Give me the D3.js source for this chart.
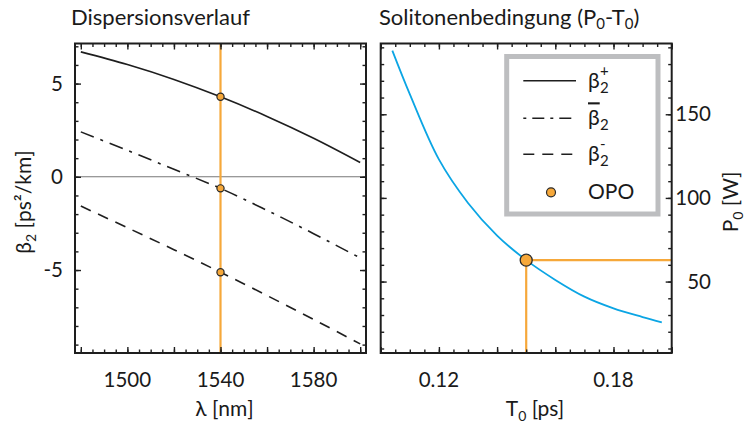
<!DOCTYPE html>
<html>
<head>
<meta charset="utf-8">
<script src="https://cdn.jsdelivr.net/npm/d3@7"></script>
<style>
    body { margin: 0; background: #fff; }
    svg text { font-family: Lato, 'Open Sans', sans-serif; fill: #1a1a1a; }
</style>
</head>
<body>
<div id="chart"></div>
<script>
// left panel: dispersion over wavelength
const lambda = [1480, 1500, 1520, 1540, 1560, 1580, 1600];
const beta2Plus = [6.70, 6.02, 5.22, 4.29, 3.24, 2.07, 0.77];
const beta2Mean = [2.41, 1.42, 0.40, -0.62, -1.80, -3.05, -4.35];
const beta2Minus = [-1.57, -2.73, -3.91, -5.12, -6.37, -7.65, -8.96];
const lambdaOPO = 1540;
const betaOPO = [4.29, -0.62, -5.12];

// right panel: soliton condition P0 over T0
const T0 = [0.104, 0.110, 0.120, 0.130, 0.140, 0.150, 0.160, 0.170, 0.180, 0.190, 0.1966];
const P0 = [188, 162, 123, 97, 77.5, 62.8, 51, 41, 34, 28.8, 25.6];
const T0OPO = 0.150;
const P0OPO = 62.8;

// tick labels
const lambdaLabels = [1500, 1540, 1580];
const betaLabels = [-5, 0, 5];
const T0Labels = [0.12, 0.18];
const P0Labels = [50, 100, 150];

const W = 748, H = 427;
const orange = '#F6A83A';
const blue = '#0BA5E4';
const ink = '#1e1e1e';

const svg = d3.select('#chart').append('svg')
    .attr('width', W)
    .attr('height', H);

// scales
const xL = d3.scaleLinear().domain([1477.5, 1602.5]).range([75, 366]);
const yL = d3.scaleLinear().domain([-9.45, 7.15]).range([353, 43.5]);
const xR = d3.scaleLinear().domain([0.10, 0.20]).range([380.7, 671.7]);
const yR = d3.scaleLinear().domain([7.3, 192.3]).range([353, 43.5]);

/**
 * draws inward ticks on all four sides plus the box
 */
function frame(g, x, y, t) {
    const [x0, x1] = x.range();
    const [y0, y1] = y.range();
    const sides = [
        [d3.axisBottom(x), 0, y0, t.xMinor, t.xMajor],
        [d3.axisTop(x), 0, y1, t.xMinor, t.xMajor],
        [d3.axisLeft(y), x0, 0, t.yMinor, t.yMajor],
        [d3.axisRight(y), x1, 0, t.yMinor, t.yMajor]
    ];
    sides.forEach(([axis, tx, ty, minor, major]) => {
        [[minor, 3.5], [major, 6]].forEach(([vals, len]) => {
            g.append('g')
                .attr('transform', `translate(${tx},${ty})`)
                .call(axis.tickValues(vals).tickSize(-len).tickFormat(''))
                .call(s => s.select('.domain').remove())
                .selectAll('line')
                .attr('stroke', ink)
                .attr('stroke-width', 1.4);
        });
    });
    g.append('rect')
        .attr('x', x0).attr('y', y1)
        .attr('width', x1 - x0).attr('height', y0 - y1)
        .attr('fill', 'none')
        .attr('stroke', ink)
        .attr('stroke-width', 2);
}

// ---------- left panel ----------
const gL = svg.append('g');

gL.append('line')
    .attr('x1', xL.range()[0]).attr('x2', xL.range()[1])
    .attr('y1', yL(0)).attr('y2', yL(0))
    .attr('stroke', '#777').attr('stroke-width', 1.1);

gL.append('line')
    .attr('x1', xL(lambdaOPO)).attr('x2', xL(lambdaOPO))
    .attr('y1', yL.range()[0]).attr('y2', yL.range()[1])
    .attr('stroke', orange).attr('stroke-width', 2.2);

const lineL = d3.line()
    .x((d, i) => xL(lambda[i]))
    .y(d => yL(d))
    .curve(d3.curveCatmullRom);

const series = [
    { values: beta2Plus, dash: null },
    { values: beta2Mean, dash: '14,7,3,7' },
    { values: beta2Minus, dash: '11,8' }
];

gL.selectAll('path.beta')
    .data(series)
    .join('path')
    .classed('beta', true)
    .attr('d', d => lineL(d.values))
    .attr('fill', 'none')
    .attr('stroke', ink)
    .attr('stroke-width', 1.6)
    .attr('stroke-dasharray', d => d.dash);

gL.selectAll('circle.opo')
    .data(betaOPO)
    .join('circle')
    .classed('opo', true)
    .attr('cx', xL(lambdaOPO))
    .attr('cy', d => yL(d))
    .attr('r', 3.6)
    .attr('fill', orange)
    .attr('stroke', '#2a2a2a')
    .attr('stroke-width', 1.2);

frame(gL, xL, yL, {
    xMinor: d3.range(1480, 1601, 5),
    xMajor: d3.range(1480, 1601, 20),
    yMinor: d3.range(-9, 8, 1),
    yMajor: [-5, 0, 5]
});

gL.selectAll('text.xlab')
    .data(lambdaLabels)
    .join('text')
    .classed('xlab', true)
    .attr('x', d => xL(d))
    .attr('y', 387)
    .attr('text-anchor', 'middle')
    .style('font-size', '20.5px')
    .text(d => d);

gL.selectAll('text.ylab')
    .data(betaLabels)
    .join('text')
    .classed('ylab', true)
    .attr('x', 63)
    .attr('y', d => yL(d) + 7)
    .attr('text-anchor', 'end')
    .style('font-size', '20.5px')
    .text(d => String(d));

gL.append('text')
    .attr('x', 71).attr('y', 25)
    .style('font-size', '22px')
    .text('Dispersionsverlauf');

gL.append('text')
    .attr('x', xL(lambdaOPO) + 4).attr('y', 416)
    .attr('text-anchor', 'middle')
    .style('font-size', '21px')
    .text('λ [nm]');

const yTitle = gL.append('text')
    .attr('transform', 'translate(31,202) rotate(-90)')
    .attr('text-anchor', 'middle')
    .style('font-size', '21px');
yTitle.append('tspan').text('β');
yTitle.append('tspan').attr('dy', 5).style('font-size', '14px').text('2');
yTitle.append('tspan').attr('dy', -5).text(' [ps²/km]');

// ---------- right panel ----------
const gR = svg.append('g');

gR.append('path')
    .attr('d', d3.line().x((d, i) => xR(T0[i])).y(d => yR(d)).curve(d3.curveCatmullRom)(P0))
    .attr('fill', 'none')
    .attr('stroke', blue)
    .attr('stroke-width', 1.8);

gR.append('line')
    .attr('x1', xR(T0OPO)).attr('x2', xR(T0OPO))
    .attr('y1', yR.range()[0]).attr('y2', yR(P0OPO))
    .attr('stroke', orange).attr('stroke-width', 2.2);

gR.append('line')
    .attr('x1', xR(T0OPO)).attr('x2', xR.range()[1])
    .attr('y1', yR(P0OPO)).attr('y2', yR(P0OPO))
    .attr('stroke', orange).attr('stroke-width', 2.2);

gR.append('circle')
    .attr('cx', xR(T0OPO)).attr('cy', yR(P0OPO))
    .attr('r', 6)
    .attr('fill', orange)
    .attr('stroke', '#2a2a2a')
    .attr('stroke-width', 1.3);

frame(gR, xR, yR, {
    xMinor: d3.range(0, 21, 1).map(i => 0.10 + i * 0.005),
    xMajor: d3.range(0, 6, 1).map(i => 0.10 + i * 0.02),
    yMinor: d3.range(10, 191, 10),
    yMajor: [50, 100, 150]
});

gR.selectAll('text.xlab')
    .data(T0Labels)
    .join('text')
    .classed('xlab', true)
    .attr('x', d => xR(d))
    .attr('y', 387)
    .attr('text-anchor', 'middle')
    .style('font-size', '20.5px')
    .text(d => d.toFixed(2));

gR.selectAll('text.ylab')
    .data(P0Labels)
    .join('text')
    .classed('ylab', true)
    .attr('x', 711)
    .attr('y', d => yR(d) + 7)
    .attr('text-anchor', 'end')
    .style('font-size', '20.5px')
    .text(d => d);

const rTitle = gR.append('text')
    .attr('x', 379).attr('y', 25)
    .style('font-size', '22px');
rTitle.append('tspan').text('Solitonenbedingung (P');
rTitle.append('tspan').attr('dy', 4).style('font-size', '15px').text('0');
rTitle.append('tspan').attr('dy', -4).text('-T');
rTitle.append('tspan').attr('dy', 4).style('font-size', '15px').text('0');
rTitle.append('tspan').attr('dy', -4).text(')');

const tTitle = gR.append('text')
    .attr('x', 535).attr('y', 416)
    .attr('text-anchor', 'middle')
    .style('font-size', '21px');
tTitle.append('tspan').text('T');
tTitle.append('tspan').attr('dy', 5).style('font-size', '14px').text('0');
tTitle.append('tspan').attr('dy', -5).text(' [ps]');

const pTitle = gR.append('text')
    .attr('transform', 'translate(738,202) rotate(-90)')
    .attr('text-anchor', 'middle')
    .style('font-size', '21px');
pTitle.append('tspan').text('P');
pTitle.append('tspan').attr('dy', 5).style('font-size', '14px').text('0');
pTitle.append('tspan').attr('dy', -5).text(' [W]');

// ---------- legend ----------
const legend = gR.append('g');
legend.append('rect')
    .attr('x', 506.7).attr('y', 56.5)
    .attr('width', 151.3).attr('height', 157.5)
    .attr('fill', '#fff')
    .attr('stroke', '#BDBEC0')
    .attr('stroke-width', 5);

const legendRows = [
    { y: 80.7, dash: null, sup: '+', bar: false },
    { y: 118.3, dash: '3,6,12,6', sup: '', bar: true },
    { y: 154.3, dash: '11,8', sup: '-', bar: false }
];

legendRows.forEach(r => {
    legend.append('line')
        .attr('x1', 523.3).attr('x2', 576)
        .attr('y1', r.y).attr('y2', r.y)
        .attr('stroke', ink)
        .attr('stroke-width', 1.6)
        .attr('stroke-dasharray', r.dash);
    legend.append('text')
        .attr('x', 588).attr('y', r.y + 7)
        .style('font-size', '21px')
        .style('text-decoration', r.bar ? 'overline' : null)
        .text('β');
    legend.append('text')
        .attr('x', 600).attr('y', r.y + 12)
        .style('font-size', '15px')
        .text('2');
    if (r.sup) {
        legend.append('text')
            .attr('x', 600).attr('y', r.y - 5)
            .style('font-size', '15px')
            .text(r.sup);
    }
});

legend.append('circle')
    .attr('cx', 551).attr('cy', 192.3)
    .attr('r', 4.5)
    .attr('fill', orange)
    .attr('stroke', '#2a2a2a')
    .attr('stroke-width', 1.2);
legend.append('text')
    .attr('x', 588).attr('y', 199)
    .style('font-size', '21px')
    .text('OPO');
</script>
</body>
</html>
